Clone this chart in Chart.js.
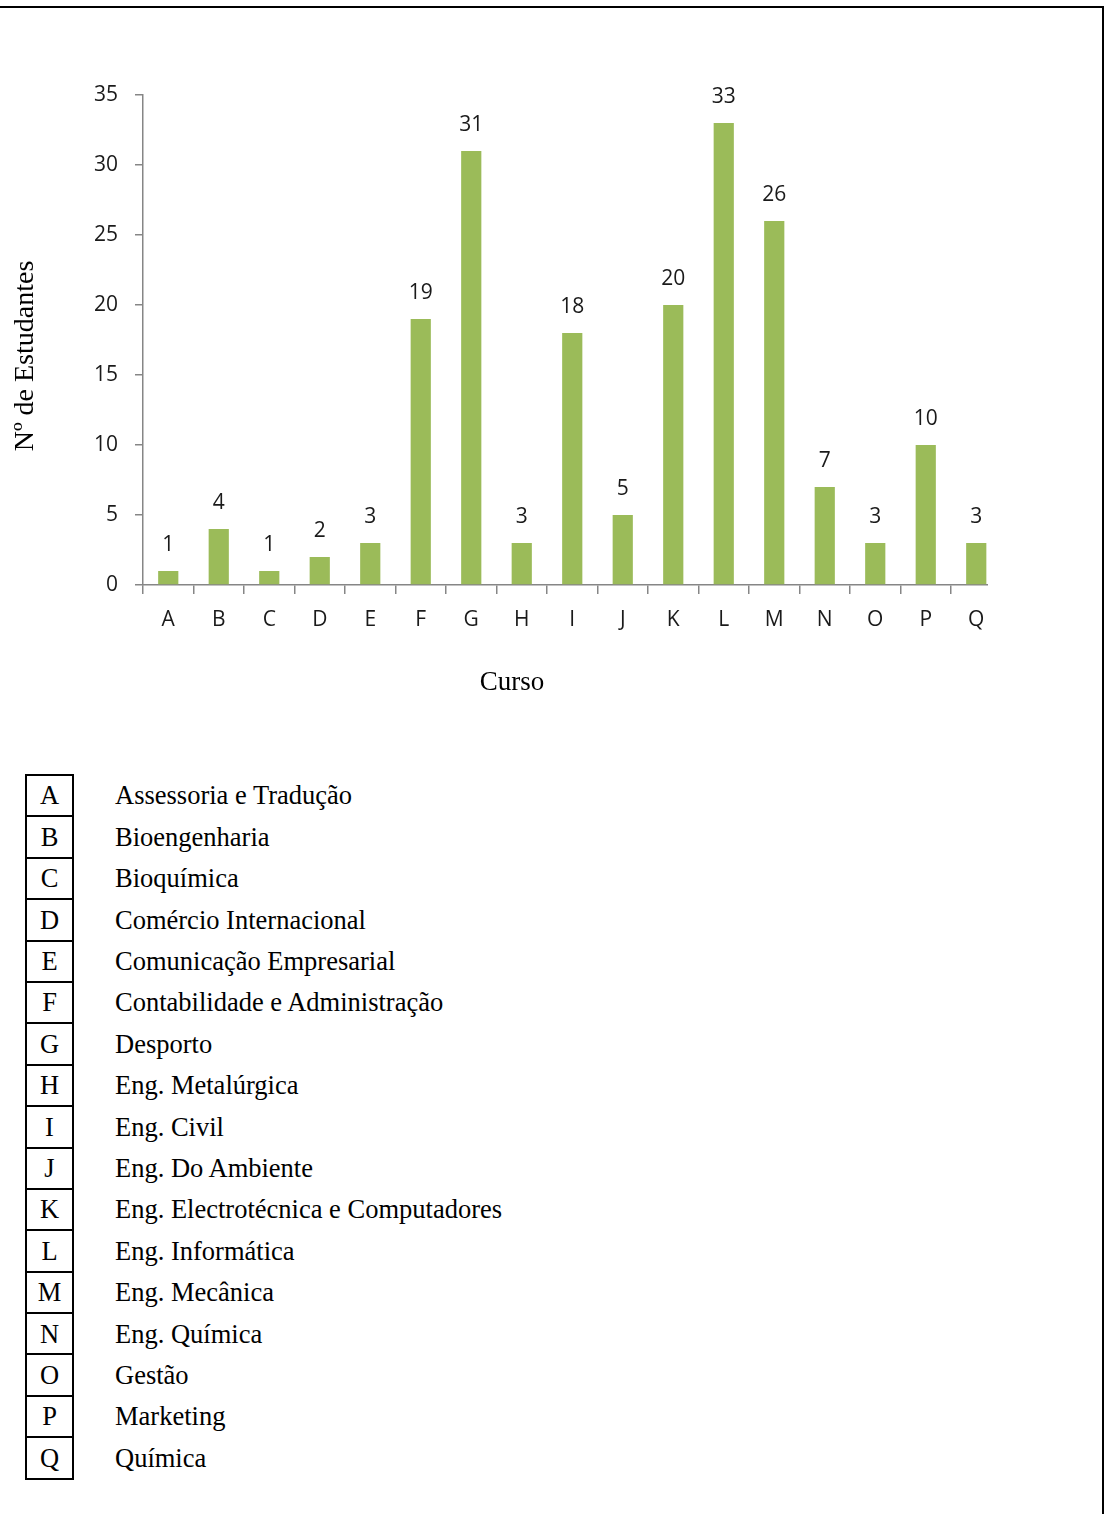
<!DOCTYPE html>
<html lang="pt">
<head>
<meta charset="utf-8">
<title>Nº de Estudantes por Curso</title>
<script src="https://cdn.jsdelivr.net/npm/chart.js@4.4.1/dist/chart.umd.min.js"></script>
<style>
  html, body { margin: 0; padding: 0; background: #fff; }
  body { width: 1105px; height: 1514px; position: relative; overflow: hidden; }
  #frame {
    position: absolute; left: 0; top: 6px; width: 1102px; height: 1520px;
    border-top: 2px solid #000; border-right: 2px solid #000; box-sizing: content-box;
  }
  #chartBox { position: absolute; left: 0; top: 2px; width: 1105px; height: 720px; }
  #chartBox canvas { display: block; }
  #key {
    position: absolute; left: 25px; top: 774px;
    border-collapse: collapse;
    font-family: "Liberation Serif", "Times New Roman", serif; font-size: 26.5px; color: #000;
  }
  #key td { height: 39.4px; padding: 0; line-height: 1; }
  #key td.code {
    width: 45px; text-align: center; border: 2px solid #000;
  }
  #key td.name { padding-left: 41px; white-space: nowrap; }
</style>
</head>
<body>
<div id="frame"></div>
<div id="chartBox"><canvas id="chart" width="1105" height="720"></canvas></div>
<table id="key"></table>
<script>
// Course codes, course names and student counts
const categories = ['A','B','C','D','E','F','G','H','I','J','K','L','M','N','O','P','Q'];
const courseNames = [
  'Assessoria e Tradução',
  'Bioengenharia',
  'Bioquímica',
  'Comércio Internacional',
  'Comunicação Empresarial',
  'Contabilidade e Administração',
  'Desporto',
  'Eng. Metalúrgica',
  'Eng. Civil',
  'Eng. Do Ambiente',
  'Eng. Electrotécnica e Computadores',
  'Eng. Informática',
  'Eng. Mecânica',
  'Eng. Química',
  'Gestão',
  'Marketing',
  'Química'
];
const students = [1, 4, 1, 2, 3, 19, 31, 3, 18, 5, 20, 33, 26, 7, 3, 10, 3];
const yTicks = [0, 5, 10, 15, 20, 25, 30, 35];
const xTitle = 'Curso';
const yTitle = 'Nº de Estudantes';

// Key table below the chart
const key = document.getElementById('key');
categories.forEach((c, i) => {
  const tr = document.createElement('tr');
  const td1 = document.createElement('td');
  td1.className = 'code';
  td1.textContent = c;
  const td2 = document.createElement('td');
  td2.className = 'name';
  td2.textContent = courseNames[i];
  tr.appendChild(td1);
  tr.appendChild(td2);
  key.appendChild(tr);
});

const AXIS_GREY = '#868686';
const TICK_FONT = { family: '"Open Sans", "DejaVu Sans", sans-serif', size: 21 };

// Keeps drawing left of the end of the category axis line
const clipRight = {
  id: 'clipRight',
  beforeDraw(chart) {
    const ctx = chart.ctx;
    ctx.save();
    ctx.beginPath();
    ctx.rect(0, 0, 988, chart.height);
    ctx.clip();
  },
  afterDraw(chart) {
    chart.ctx.restore();
  }
};

// Value labels above each bar
const valueLabels = {
  id: 'valueLabels',
  afterDatasetsDraw(chart) {
    const ctx = chart.ctx;
    const meta = chart.getDatasetMeta(0);
    ctx.save();
    ctx.font = TICK_FONT.size + 'px ' + TICK_FONT.family;
    ctx.fillStyle = '#1a1a1a';
    ctx.textAlign = 'center';
    ctx.textBaseline = 'alphabetic';
    meta.data.forEach((bar, i) => {
      ctx.fillText(String(students[i]), bar.x, bar.y - 20);
    });
    ctx.restore();
  }
};

// Axis titles
const axisTitles = {
  id: 'axisTitles',
  afterDraw(chart) {
    const ctx = chart.ctx;
    ctx.save();
    ctx.fillStyle = '#000';
    ctx.font = '27px "Liberation Serif", "Times New Roman", serif';
    ctx.textAlign = 'center';
    ctx.textBaseline = 'alphabetic';
    ctx.fillText(xTitle, 512, 688);
    ctx.font = '28px "Liberation Serif", "Times New Roman", serif';
    ctx.translate(33, 354);
    ctx.rotate(-Math.PI / 2);
    ctx.fillText(yTitle, 0, 0);
    ctx.restore();
  }
};

new Chart(document.getElementById('chart'), {
  type: 'bar',
  data: {
    labels: categories,
    datasets: [{
      data: students,
      backgroundColor: '#9BBB59',
      borderWidth: 0,
      barPercentage: 0.4,
      categoryPercentage: 1.0
    }]
  },
  options: {
    responsive: false,
    animation: false,
    events: [],
    layout: { padding: { left: 0, right: 103.5, top: 93, bottom: 0 } },
    plugins: { legend: { display: false }, tooltip: { enabled: false } },
    scales: {
      x: {
        offset: true,
        grid: {
          offset: true,
          drawOnChartArea: false,
          drawTicks: true,
          tickLength: 9,
          color: AXIS_GREY,
          lineWidth: 1.5
        },
        border: { display: true, color: AXIS_GREY, width: 1.5 },
        ticks: { font: TICK_FONT, color: '#1a1a1a', padding: 13, maxRotation: 0 },
        afterFit(scale) { scale.height = 137; }
      },
      y: {
        min: 0,
        max: 35,
        afterBuildTicks(scale) { scale.ticks = yTicks.map(v => ({ value: v })); },
        grid: {
          drawOnChartArea: false,
          drawTicks: true,
          tickLength: 8,
          color: AXIS_GREY,
          lineWidth: 1.5
        },
        border: { display: true, color: AXIS_GREY, width: 1.5 },
        ticks: { font: TICK_FONT, color: '#1a1a1a', padding: 17 },
        afterFit(scale) { scale.width = 143; }
      }
    }
  },
  plugins: [clipRight, valueLabels, axisTitles]
});
</script>
</body>
</html>
